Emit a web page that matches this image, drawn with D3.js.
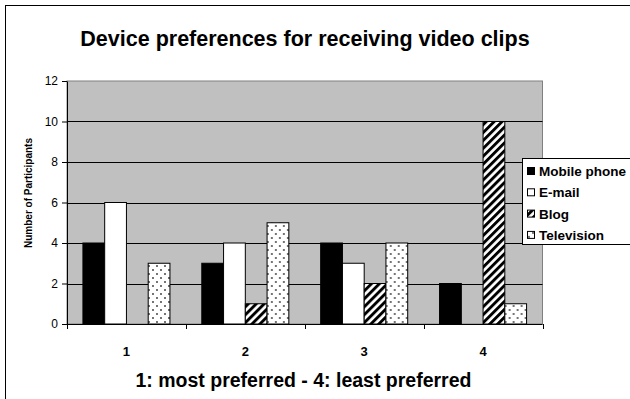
<!DOCTYPE html>
<html>
<head>
<meta charset="utf-8">
<script src="https://cdn.jsdelivr.net/npm/d3@7"></script>
<style>
  html, body { margin: 0; padding: 0; background: #fff; }
  svg { display: block; font-family: "Liberation Sans", Arial, sans-serif; }
</style>
</head>
<body>
<svg id="chart" width="630" height="399"></svg>
<script>
// Rank categories (1 = most preferred, 4 = least preferred)
const categories = ["1", "2", "3", "4"];
const seriesNames = ["Mobile phone", "E-mail", "Blog", "Television"];
// Participants per rank, one array per device
const mobilePhone = [4, 3, 4, 2];
const email       = [6, 4, 3, 0];
const blog        = [0, 1, 2, 10];
const television  = [3, 5, 4, 1];
const yTicks = [0, 2, 4, 6, 8, 10, 12];

const seriesValues = [mobilePhone, email, blog, television];

const svg = d3.select("#chart");
const defs = svg.append("defs");

// Wide upward diagonal hatch
const hatch = defs.append("pattern")
  .attr("id", "hatch")
  .attr("patternUnits", "userSpaceOnUse")
  .attr("width", 5.6).attr("height", 5.6)
  .attr("patternTransform", "rotate(45)");
hatch.append("rect").attr("width", 5.6).attr("height", 5.6).attr("fill", "#fff");
hatch.append("rect").attr("width", 2.9).attr("height", 5.6).attr("fill", "#000");

// Sparse dot pattern
const dots = defs.append("pattern")
  .attr("id", "dots")
  .attr("patternUnits", "userSpaceOnUse")
  .attr("width", 8).attr("height", 8);
dots.append("rect").attr("width", 8).attr("height", 8).attr("fill", "#fff");
dots.append("circle").attr("cx", 2).attr("cy", 2).attr("r", 0.9).attr("fill", "#333");
dots.append("circle").attr("cx", 6).attr("cy", 6).attr("r", 0.9).attr("fill", "#333");

const fills = ["#000", "#fff", "url(#hatch)", "url(#dots)"];

// Outer chart frame
svg.append("rect")
  .attr("x", 5.5).attr("y", 5.5)
  .attr("width", 640).attr("height", 420)
  .attr("fill", "#fff").attr("stroke", "#000").attr("stroke-width", 1);

const plot = { left: 67, right: 542.5, top: 81, bottom: 324 };

const x0 = d3.scaleBand().domain(categories).range([plot.left, plot.right]);
const step = x0.bandwidth();
const group = step * 0.732;
const x1 = d3.scaleBand().domain(seriesNames)
  .range([(step - group) / 2, (step + group) / 2]);
const y = d3.scaleLinear().domain([0, 12]).range([plot.bottom, plot.top]);

// Plot area
svg.append("rect")
  .attr("x", plot.left).attr("y", plot.top)
  .attr("width", plot.right - plot.left).attr("height", plot.bottom - plot.top)
  .attr("fill", "#c0c0c0").attr("stroke", "#808080").attr("stroke-width", 1);

// Horizontal gridlines
svg.append("g")
  .selectAll("line")
  .data(yTicks.filter(t => t > 0 && t < 12))
  .join("line")
  .attr("x1", plot.left).attr("x2", plot.right)
  .attr("y1", d => Math.round(y(d)) + 0.5).attr("y2", d => Math.round(y(d)) + 0.5)
  .attr("stroke", "#000").attr("stroke-width", 1);

// Bars
const groups = svg.append("g")
  .selectAll("g")
  .data(categories)
  .join("g")
  .attr("transform", d => `translate(${x0(d)},0)`);

groups.selectAll("rect")
  .data((d, i) => seriesNames.map((s, j) => ({ s, j, v: seriesValues[j][i] })).filter(e => e.v > 0))
  .join("rect")
  .attr("x", d => x1(d.s))
  .attr("y", d => y(d.v))
  .attr("width", x1.bandwidth())
  .attr("height", d => y(0) - y(d.v))
  .attr("fill", d => fills[d.j])
  .attr("stroke", "#000").attr("stroke-width", 1);

// Y axis
const yAxis = svg.append("g")
  .attr("transform", `translate(${plot.left},0)`)
  .call(d3.axisLeft(y).tickValues(yTicks).tickSize(5).tickPadding(4).tickSizeOuter(0));
yAxis.select(".domain").attr("stroke", "#000");
yAxis.selectAll("line").attr("stroke", "#000");
yAxis.selectAll("text")
  .attr("font-family", "Liberation Sans, Arial, sans-serif")
  .attr("font-size", 12).attr("fill", "#000");

// X axis: ticks sit between categories
const xAxisG = svg.append("g");
xAxisG.append("line")
  .attr("x1", plot.left).attr("x2", plot.right)
  .attr("y1", plot.bottom + 0.5).attr("y2", plot.bottom + 0.5)
  .attr("stroke", "#000");
const boundaries = categories.map(c => x0(c)).concat([plot.right]);
xAxisG.selectAll("line.tick")
  .data(boundaries)
  .join("line")
  .attr("class", "tick")
  .attr("x1", d => Math.round(d) + 0.5).attr("x2", d => Math.round(d) + 0.5)
  .attr("y1", plot.bottom).attr("y2", plot.bottom + 5)
  .attr("stroke", "#000");
xAxisG.selectAll("text")
  .data(categories)
  .join("text")
  .attr("x", d => x0(d) + step / 2)
  .attr("y", 355.5)
  .attr("text-anchor", "middle")
  .attr("font-size", 13).attr("font-weight", "bold")
  .text(d => d);

// Titles
svg.append("text")
  .attr("x", 305).attr("y", 46)
  .attr("text-anchor", "middle")
  .attr("font-size", 21.5).attr("font-weight", "bold")
  .text("Device preferences for receiving video clips");

svg.append("text")
  .attr("x", 303.5).attr("y", 387)
  .attr("text-anchor", "middle")
  .attr("font-size", 19.5).attr("font-weight", "bold")
  .text("1: most preferred - 4: least preferred");

svg.append("text")
  .attr("transform", `translate(32,193) rotate(-90)`)
  .attr("text-anchor", "middle")
  .attr("font-size", 10).attr("font-weight", "bold")
  .text("Number of Participants");

// Legend
const legend = svg.append("g");
legend.append("rect")
  .attr("x", 522.5).attr("y", 158.5)
  .attr("width", 120).attr("height", 86)
  .attr("fill", "#fff").attr("stroke", "#000").attr("stroke-width", 1);
const items = legend.selectAll("g.item")
  .data(seriesNames)
  .join("g")
  .attr("class", "item")
  .attr("transform", (d, i) => `translate(527,${171 + i * 21.3})`);
items.append("rect")
  .attr("x", 0.5).attr("y", -3.5)
  .attr("width", 7).attr("height", 7)
  .attr("fill", (d, i) => fills[i])
  .attr("stroke", "#000").attr("stroke-width", 1);
items.append("text")
  .attr("x", 12).attr("y", 5)
  .attr("font-size", 13.5).attr("font-weight", "bold")
  .text(d => d);
</script>
</body>
</html>
